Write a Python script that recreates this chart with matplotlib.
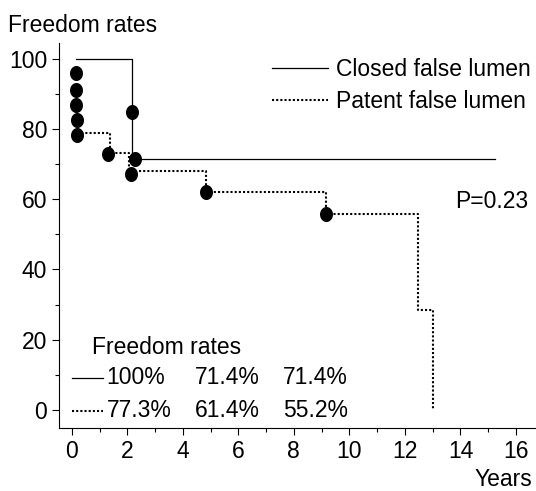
import numpy as np
import matplotlib.pyplot as plt
from matplotlib.path import Path

plt.rcParams['font.family'] = ['Liberation Sans', 'DejaVu Sans']

# Kaplan-Meier steps (years, freedom rate %)
closed_t = [0.17, 2.16, 15.24]
closed_s = [100, 71.4, 71.4]
patent_t = [0.2, 1.37, 2.05, 4.82, 9.14, 12.48, 13.01]
patent_s = [78.9, 73.2, 68.1, 62.2, 55.9, 28.5, 0]

# censored observations
cens_t = [0.14, 0.14, 0.14, 0.2, 0.2, 1.31, 2.16, 2.27, 2.15, 4.82, 9.14]
cens_s = [96.1, 91.3, 87.0, 82.6, 78.3, 73.0, 85.1, 71.6, 67.4, 62.2, 55.9]

closed_rates = ["100%", "71.4%", "71.4%"]
patent_rates = ["77.3%", "61.4%", "55.2%"]

FS = 16.5

fig = plt.figure(figsize=(5.36, 4.91), dpi=100)
ax = fig.add_axes([0.110, 0.128, 0.89, 0.784])

ax.plot(closed_t, closed_s, drawstyle="steps-post", color="black", lw=0.9,
        label="Closed false lumen")
ax.plot(patent_t, patent_s, drawstyle="steps-post", color="black", lw=1.5,
        dashes=(1, 1), label="Patent false lumen")

# slightly tall oval marker
th = np.linspace(0, 2 * np.pi, 40)
oval = Path(np.column_stack([0.85 * np.cos(th), np.sin(th)]))
ax.plot(cens_t, cens_s, ls="none", marker=oval, ms=9.8, color="black")

ax.set_xlim(-0.46, 16.72)
ax.set_ylim(-5.3, 104.6)
ax.set_xticks(range(0, 17, 2))
ax.set_xticks(range(1, 17, 2), minor=True)
ax.set_yticks(range(0, 101, 20))
ax.set_yticks(range(10, 100, 20), minor=True)
ax.tick_params(which="both", direction="out", labelsize=FS, width=0.8)
ax.tick_params(which="major", length=5)
ax.tick_params(which="minor", length=3)
ax.spines["top"].set_visible(False)
ax.spines["right"].set_visible(False)

ax.legend(loc="upper right", bbox_to_anchor=(531 / 536, 1 - 58 / 491),
          bbox_transform=fig.transFigure, borderaxespad=0, borderpad=0,
          frameon=False, fontsize=FS, handlelength=2.45, handletextpad=0.35,
          labelspacing=0.4)

ax.text(16.43, 59.4, "P=0.23", fontsize=FS, ha="right", va="center")

# freedom-rate table
ax.text(0.72, 17.7, "Freedom rates", fontsize=FS, ha="left", va="center")
ax.plot([0, 1.12], [9.1, 9.1], color="black", lw=0.9)
ax.plot([0, 1.12], [-0.3, -0.3], color="black", lw=1.5, dashes=(1, 1))
for x, c, p in zip([1.26, 4.43, 7.6], closed_rates, patent_rates):
    ax.text(x, 9.1, c, fontsize=FS, ha="left", va="center")
    ax.text(x, -0.3, p, fontsize=FS, ha="left", va="center")

fig.text(8 / 536, 1 - 25 / 491, "Freedom rates", fontsize=FS, ha="left", va="center")
fig.text(532 / 536, 1 - 479 / 491, "Years", fontsize=FS, ha="right", va="center")

fig.savefig("out.png", dpi=100)
